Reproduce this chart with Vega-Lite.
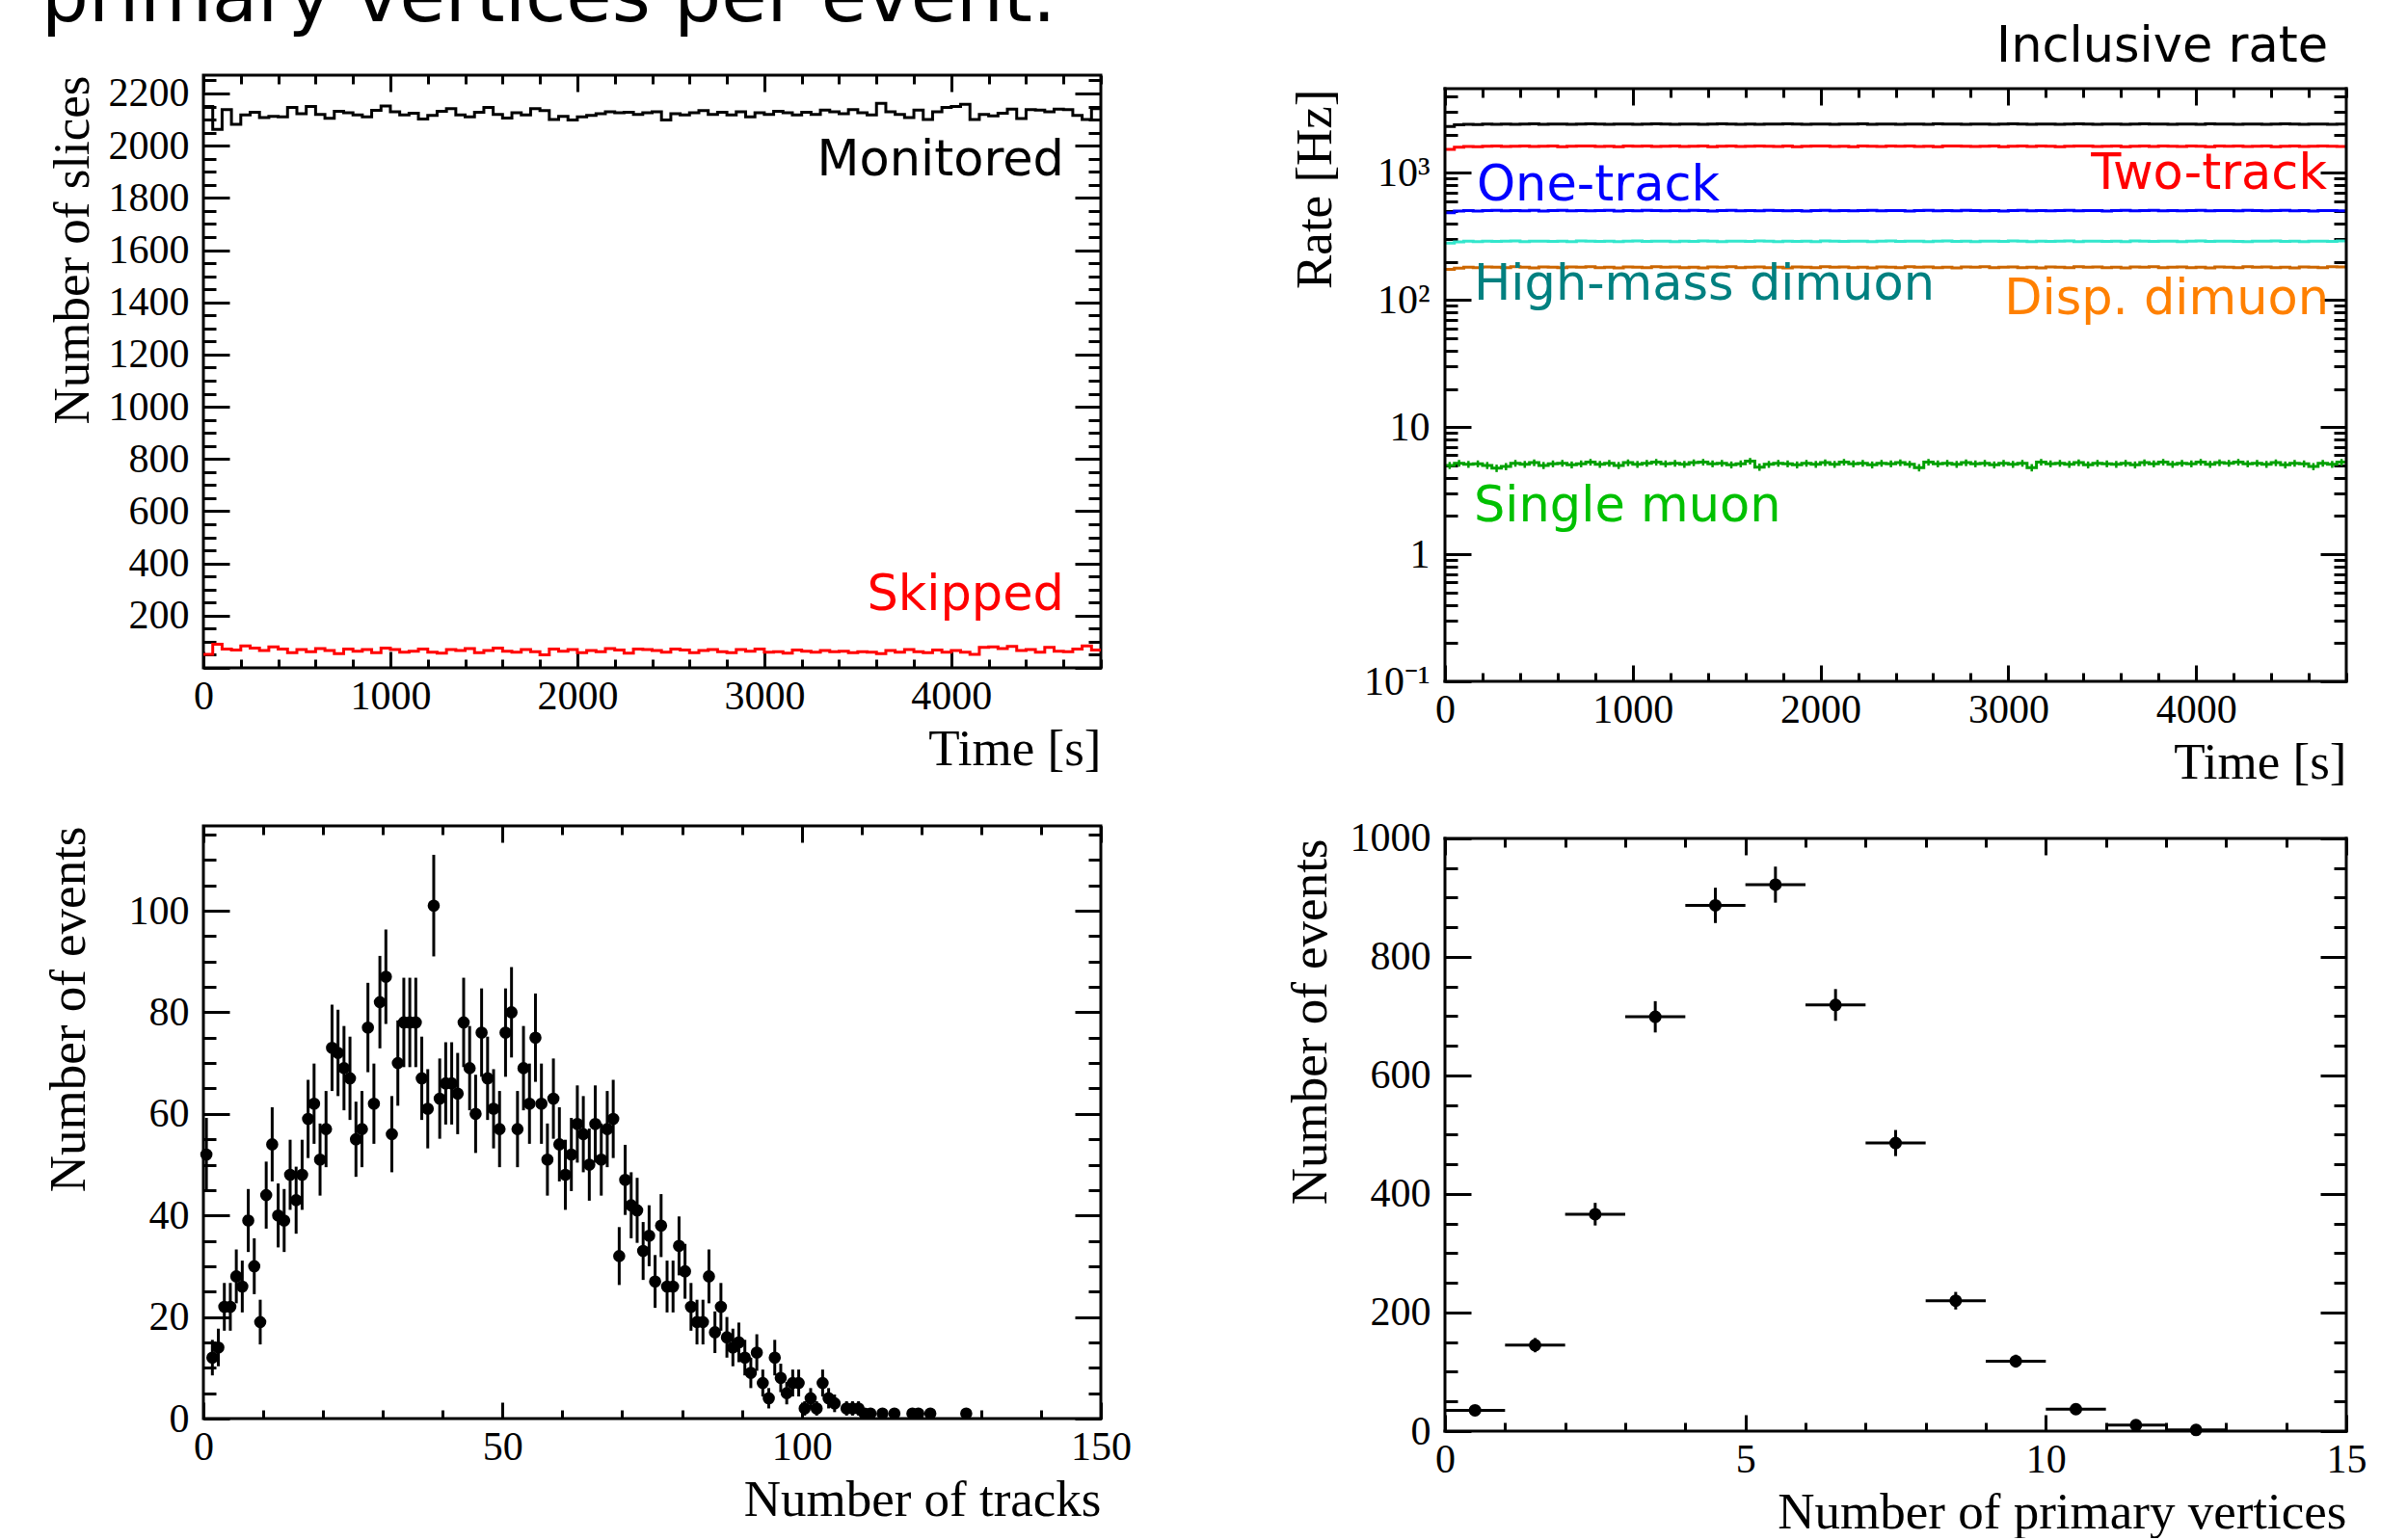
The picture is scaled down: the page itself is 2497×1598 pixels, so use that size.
{
"$schema": "https://vega.github.io/schema/vega-lite/v6.json",
"background": "white",
"padding": {"left": 41, "top": -42, "right": 0, "bottom": 0},
"bounds": "flush",
"columns": 2,
"spacing": {"row": 150, "column": 357},
"config": {
  "view": {"stroke": "black", "strokeWidth": 3},
  "axis": {"grid": false, "domain": false, "labelFont": "Liberation Serif", "labelFontSize": 42, "labelColor": "black", "titleFont": "Liberation Serif", "titleFontSize": 53, "titleFontWeight": "normal", "titleColor": "black", "tickColor": "black", "tickWidth": 3, "labelFlush": false, "labelOverlap": false, "labelBound": false},
  "text": {"font": "DejaVu Sans", "fontSize": 51}
},
"datasets": {
"slices": [
{"t":0,"mon":2150,"skip":52},{"t":50,"mon":2062,"skip":90},{"t":100,"mon":2138,"skip":72},{"t":150,"mon":2082,"skip":68},{"t":200,"mon":2118,"skip":84},{"t":250,"mon":2128,"skip":76},{"t":300,"mon":2108,"skip":66},{"t":350,"mon":2112,"skip":80},{"t":400,"mon":2110,"skip":72},{"t":450,"mon":2146,"skip":58},{"t":500,"mon":2122,"skip":70},{"t":550,"mon":2150,"skip":62},
{"t":600,"mon":2120,"skip":74},{"t":650,"mon":2105,"skip":66},{"t":700,"mon":2132,"skip":54},{"t":750,"mon":2126,"skip":72},{"t":800,"mon":2118,"skip":64},{"t":850,"mon":2110,"skip":70},{"t":900,"mon":2135,"skip":58},{"t":950,"mon":2152,"skip":76},{"t":1000,"mon":2130,"skip":70},{"t":1050,"mon":2118,"skip":60},{"t":1100,"mon":2124,"skip":64},{"t":1150,"mon":2102,"skip":72},
{"t":1200,"mon":2116,"skip":60},{"t":1250,"mon":2132,"skip":56},{"t":1300,"mon":2142,"skip":70},{"t":1350,"mon":2118,"skip":66},{"t":1400,"mon":2110,"skip":74},{"t":1450,"mon":2128,"skip":58},{"t":1500,"mon":2146,"skip":66},{"t":1550,"mon":2120,"skip":76},{"t":1600,"mon":2106,"skip":64},{"t":1650,"mon":2126,"skip":60},{"t":1700,"mon":2118,"skip":70},{"t":1750,"mon":2142,"skip":62},
{"t":1800,"mon":2134,"skip":50},{"t":1850,"mon":2100,"skip":72},{"t":1900,"mon":2112,"skip":64},{"t":1950,"mon":2098,"skip":70},{"t":2000,"mon":2110,"skip":58},{"t":2050,"mon":2116,"skip":66},{"t":2100,"mon":2122,"skip":62},{"t":2150,"mon":2130,"skip":74},{"t":2200,"mon":2126,"skip":68},{"t":2250,"mon":2128,"skip":56},{"t":2300,"mon":2120,"skip":72},{"t":2350,"mon":2126,"skip":70},
{"t":2400,"mon":2130,"skip":66},{"t":2450,"mon":2098,"skip":60},{"t":2500,"mon":2122,"skip":72},{"t":2550,"mon":2118,"skip":68},{"t":2600,"mon":2126,"skip":58},{"t":2650,"mon":2134,"skip":66},{"t":2700,"mon":2120,"skip":70},{"t":2750,"mon":2128,"skip":62},{"t":2800,"mon":2118,"skip":58},{"t":2850,"mon":2130,"skip":70},{"t":2900,"mon":2110,"skip":64},{"t":2950,"mon":2126,"skip":72},
{"t":3000,"mon":2120,"skip":60},{"t":3050,"mon":2132,"skip":62},{"t":3100,"mon":2126,"skip":56},{"t":3150,"mon":2118,"skip":68},{"t":3200,"mon":2128,"skip":64},{"t":3250,"mon":2120,"skip":60},{"t":3300,"mon":2136,"skip":66},{"t":3350,"mon":2130,"skip":62},{"t":3400,"mon":2122,"skip":64},{"t":3450,"mon":2138,"skip":58},{"t":3500,"mon":2126,"skip":62},{"t":3550,"mon":2118,"skip":60},
{"t":3600,"mon":2162,"skip":54},{"t":3650,"mon":2130,"skip":66},{"t":3700,"mon":2120,"skip":60},{"t":3750,"mon":2108,"skip":70},{"t":3800,"mon":2136,"skip":62},{"t":3850,"mon":2100,"skip":58},{"t":3900,"mon":2130,"skip":68},{"t":3950,"mon":2146,"skip":60},{"t":4000,"mon":2150,"skip":66},{"t":4050,"mon":2158,"skip":60},{"t":4100,"mon":2100,"skip":52},{"t":4150,"mon":2120,"skip":78},
{"t":4200,"mon":2114,"skip":80},{"t":4250,"mon":2124,"skip":74},{"t":4300,"mon":2140,"skip":82},{"t":4350,"mon":2104,"skip":66},{"t":4400,"mon":2138,"skip":70},{"t":4450,"mon":2136,"skip":60},{"t":4500,"mon":2130,"skip":78},{"t":4550,"mon":2140,"skip":64},{"t":4600,"mon":2138,"skip":62},{"t":4650,"mon":2116,"skip":72},{"t":4700,"mon":2100,"skip":84},{"t":4750,"mon":2142,"skip":68},
{"t":4800,"mon":2142,"skip":68}
],
"rates": [
{"t":0,"c":25,"inc":2320,"two":1530,"one":485,"hm":280,"disp":174,"mu":5.0,"lo":4.68,"hi":5.32},
{"t":50,"c":75,"inc":2390,"two":1590,"one":500,"hm":286,"disp":178,"mu":5.2,"lo":4.88,"hi":5.52},
{"t":100,"c":125,"inc":2410,"two":1615,"one":506,"hm":290,"disp":181,"mu":5.1,"lo":4.78,"hi":5.42},
{"t":150,"c":175,"inc":2400,"two":1610,"one":502,"hm":288,"disp":180,"mu":5.15,"lo":4.83,"hi":5.47},
{"t":200,"c":225,"inc":2420,"two":1620,"one":505,"hm":291,"disp":182,"mu":5.0,"lo":4.68,"hi":5.32},
{"t":250,"c":275,"inc":2415,"two":1625,"one":508,"hm":289,"disp":181,"mu":4.75,"lo":4.43,"hi":5.07},
{"t":300,"c":325,"inc":2425,"two":1615,"one":503,"hm":290,"disp":180,"mu":4.9,"lo":4.58,"hi":5.22},
{"t":350,"c":375,"inc":2410,"two":1620,"one":506,"hm":292,"disp":183,"mu":5.2,"lo":4.88,"hi":5.52},
{"t":400,"c":425,"inc":2420,"two":1630,"one":504,"hm":288,"disp":181,"mu":5.1,"lo":4.78,"hi":5.42},
{"t":450,"c":475,"inc":2430,"two":1615,"one":507,"hm":290,"disp":179,"mu":5.25,"lo":4.93,"hi":5.57},
{"t":500,"c":525,"inc":2415,"two":1620,"one":502,"hm":291,"disp":182,"mu":5.0,"lo":4.68,"hi":5.32},
{"t":550,"c":575,"inc":2420,"two":1625,"one":505,"hm":289,"disp":181,"mu":5.15,"lo":4.83,"hi":5.47},
{"t":600,"c":625,"inc":2425,"two":1610,"one":508,"hm":290,"disp":180,"mu":5.2,"lo":4.88,"hi":5.52},
{"t":650,"c":675,"inc":2410,"two":1620,"one":504,"hm":288,"disp":182,"mu":5.05,"lo":4.73,"hi":5.37},
{"t":700,"c":725,"inc":2420,"two":1625,"one":506,"hm":292,"disp":181,"mu":5.15,"lo":4.83,"hi":5.47},
{"t":750,"c":775,"inc":2430,"two":1630,"one":503,"hm":290,"disp":183,"mu":5.3,"lo":4.98,"hi":5.62},
{"t":800,"c":825,"inc":2420,"two":1615,"one":505,"hm":289,"disp":180,"mu":5.1,"lo":4.78,"hi":5.42},
{"t":850,"c":875,"inc":2415,"two":1620,"one":507,"hm":291,"disp":181,"mu":5.2,"lo":4.88,"hi":5.52},
{"t":900,"c":925,"inc":2425,"two":1610,"one":502,"hm":288,"disp":179,"mu":5.0,"lo":4.68,"hi":5.32},
{"t":950,"c":975,"inc":2420,"two":1625,"one":506,"hm":290,"disp":182,"mu":5.25,"lo":4.93,"hi":5.57},
{"t":1000,"c":1025,"inc":2410,"two":1620,"one":504,"hm":292,"disp":181,"mu":5.1,"lo":4.78,"hi":5.42},
{"t":1050,"c":1075,"inc":2425,"two":1630,"one":508,"hm":289,"disp":180,"mu":5.2,"lo":4.88,"hi":5.52},
{"t":1100,"c":1125,"inc":2430,"two":1615,"one":505,"hm":290,"disp":183,"mu":5.3,"lo":4.98,"hi":5.62},
{"t":1150,"c":1175,"inc":2420,"two":1620,"one":503,"hm":291,"disp":181,"mu":5.15,"lo":4.83,"hi":5.47},
{"t":1200,"c":1225,"inc":2415,"two":1625,"one":506,"hm":288,"disp":182,"mu":5.2,"lo":4.88,"hi":5.52},
{"t":1250,"c":1275,"inc":2420,"two":1615,"one":504,"hm":290,"disp":180,"mu":5.1,"lo":4.78,"hi":5.42},
{"t":1300,"c":1325,"inc":2425,"two":1620,"one":507,"hm":289,"disp":181,"mu":5.25,"lo":4.93,"hi":5.57},
{"t":1350,"c":1375,"inc":2410,"two":1630,"one":505,"hm":292,"disp":179,"mu":5.3,"lo":4.98,"hi":5.62},
{"t":1400,"c":1425,"inc":2420,"two":1610,"one":502,"hm":290,"disp":182,"mu":5.15,"lo":4.83,"hi":5.47},
{"t":1450,"c":1475,"inc":2430,"two":1620,"one":506,"hm":288,"disp":181,"mu":5.2,"lo":4.88,"hi":5.52},
{"t":1500,"c":1525,"inc":2425,"two":1625,"one":508,"hm":291,"disp":183,"mu":5.05,"lo":4.73,"hi":5.37},
{"t":1550,"c":1575,"inc":2415,"two":1615,"one":504,"hm":290,"disp":180,"mu":5.15,"lo":4.83,"hi":5.47},
{"t":1600,"c":1625,"inc":2420,"two":1620,"one":505,"hm":289,"disp":181,"mu":5.4,"lo":5.08,"hi":5.72},
{"t":1650,"c":1675,"inc":2410,"two":1630,"one":503,"hm":292,"disp":182,"mu":4.85,"lo":4.53,"hi":5.17},
{"t":1700,"c":1725,"inc":2425,"two":1620,"one":507,"hm":290,"disp":180,"mu":5.1,"lo":4.78,"hi":5.42},
{"t":1750,"c":1775,"inc":2420,"two":1615,"one":505,"hm":288,"disp":181,"mu":5.2,"lo":4.88,"hi":5.52},
{"t":1800,"c":1825,"inc":2430,"two":1625,"one":504,"hm":291,"disp":179,"mu":5.15,"lo":4.83,"hi":5.47},
{"t":1850,"c":1875,"inc":2420,"two":1610,"one":506,"hm":289,"disp":182,"mu":5.05,"lo":4.73,"hi":5.37},
{"t":1900,"c":1925,"inc":2415,"two":1620,"one":502,"hm":290,"disp":181,"mu":5.2,"lo":4.88,"hi":5.52},
{"t":1950,"c":1975,"inc":2425,"two":1625,"one":505,"hm":288,"disp":180,"mu":5.1,"lo":4.78,"hi":5.42},
{"t":2000,"c":2025,"inc":2420,"two":1630,"one":508,"hm":292,"disp":183,"mu":5.25,"lo":4.93,"hi":5.57},
{"t":2050,"c":2075,"inc":2410,"two":1615,"one":504,"hm":290,"disp":181,"mu":5.1,"lo":4.78,"hi":5.42},
{"t":2100,"c":2125,"inc":2420,"two":1620,"one":506,"hm":289,"disp":182,"mu":5.3,"lo":4.98,"hi":5.62},
{"t":2150,"c":2175,"inc":2425,"two":1610,"one":503,"hm":291,"disp":180,"mu":5.15,"lo":4.83,"hi":5.47},
{"t":2200,"c":2225,"inc":2430,"two":1625,"one":505,"hm":290,"disp":181,"mu":5.2,"lo":4.88,"hi":5.52},
{"t":2250,"c":2275,"inc":2415,"two":1620,"one":507,"hm":288,"disp":179,"mu":5.05,"lo":4.73,"hi":5.37},
{"t":2300,"c":2325,"inc":2420,"two":1615,"one":504,"hm":290,"disp":182,"mu":5.2,"lo":4.88,"hi":5.52},
{"t":2350,"c":2375,"inc":2425,"two":1630,"one":506,"hm":292,"disp":181,"mu":5.15,"lo":4.83,"hi":5.47},
{"t":2400,"c":2425,"inc":2410,"two":1620,"one":505,"hm":289,"disp":180,"mu":5.25,"lo":4.93,"hi":5.57},
{"t":2450,"c":2475,"inc":2420,"two":1625,"one":502,"hm":290,"disp":183,"mu":5.1,"lo":4.78,"hi":5.42},
{"t":2500,"c":2525,"inc":2425,"two":1615,"one":506,"hm":291,"disp":181,"mu":4.8,"lo":4.48,"hi":5.12},
{"t":2550,"c":2575,"inc":2415,"two":1620,"one":508,"hm":288,"disp":182,"mu":5.3,"lo":4.98,"hi":5.62},
{"t":2600,"c":2625,"inc":2430,"two":1610,"one":504,"hm":290,"disp":180,"mu":5.15,"lo":4.83,"hi":5.47},
{"t":2650,"c":2675,"inc":2420,"two":1625,"one":505,"hm":292,"disp":181,"mu":5.2,"lo":4.88,"hi":5.52},
{"t":2700,"c":2725,"inc":2425,"two":1630,"one":503,"hm":289,"disp":179,"mu":5.1,"lo":4.78,"hi":5.42},
{"t":2750,"c":2775,"inc":2410,"two":1620,"one":507,"hm":290,"disp":182,"mu":5.25,"lo":4.93,"hi":5.57},
{"t":2800,"c":2825,"inc":2420,"two":1615,"one":505,"hm":288,"disp":181,"mu":5.15,"lo":4.83,"hi":5.47},
{"t":2850,"c":2875,"inc":2425,"two":1620,"one":504,"hm":291,"disp":183,"mu":5.2,"lo":4.88,"hi":5.52},
{"t":2900,"c":2925,"inc":2415,"two":1625,"one":506,"hm":290,"disp":180,"mu":5.05,"lo":4.73,"hi":5.37},
{"t":2950,"c":2975,"inc":2420,"two":1610,"one":502,"hm":289,"disp":181,"mu":5.2,"lo":4.88,"hi":5.52},
{"t":3000,"c":3025,"inc":2430,"two":1620,"one":505,"hm":292,"disp":182,"mu":5.1,"lo":4.78,"hi":5.42},
{"t":3050,"c":3075,"inc":2420,"two":1630,"one":508,"hm":290,"disp":180,"mu":5.2,"lo":4.88,"hi":5.52},
{"t":3100,"c":3125,"inc":2410,"two":1615,"one":504,"hm":288,"disp":181,"mu":4.8,"lo":4.48,"hi":5.12},
{"t":3150,"c":3175,"inc":2425,"two":1625,"one":506,"hm":291,"disp":179,"mu":5.3,"lo":4.98,"hi":5.62},
{"t":3200,"c":3225,"inc":2420,"two":1620,"one":503,"hm":289,"disp":182,"mu":5.15,"lo":4.83,"hi":5.47},
{"t":3250,"c":3275,"inc":2415,"two":1610,"one":505,"hm":290,"disp":181,"mu":5.2,"lo":4.88,"hi":5.52},
{"t":3300,"c":3325,"inc":2425,"two":1620,"one":507,"hm":292,"disp":180,"mu":5.1,"lo":4.78,"hi":5.42},
{"t":3350,"c":3375,"inc":2430,"two":1625,"one":504,"hm":288,"disp":183,"mu":5.25,"lo":4.93,"hi":5.57},
{"t":3400,"c":3425,"inc":2420,"two":1630,"one":506,"hm":290,"disp":181,"mu":5.05,"lo":4.73,"hi":5.37},
{"t":3450,"c":3475,"inc":2410,"two":1615,"one":505,"hm":291,"disp":182,"mu":5.2,"lo":4.88,"hi":5.52},
{"t":3500,"c":3525,"inc":2420,"two":1620,"one":502,"hm":289,"disp":180,"mu":5.15,"lo":4.83,"hi":5.47},
{"t":3550,"c":3575,"inc":2425,"two":1625,"one":506,"hm":290,"disp":181,"mu":5.1,"lo":4.78,"hi":5.42},
{"t":3600,"c":3625,"inc":2415,"two":1610,"one":508,"hm":288,"disp":179,"mu":5.2,"lo":4.88,"hi":5.52},
{"t":3650,"c":3675,"inc":2420,"two":1620,"one":504,"hm":292,"disp":182,"mu":5.05,"lo":4.73,"hi":5.37},
{"t":3700,"c":3725,"inc":2430,"two":1625,"one":505,"hm":290,"disp":181,"mu":5.25,"lo":4.93,"hi":5.57},
{"t":3750,"c":3775,"inc":2425,"two":1615,"one":507,"hm":289,"disp":183,"mu":5.15,"lo":4.83,"hi":5.47},
{"t":3800,"c":3825,"inc":2420,"two":1630,"one":503,"hm":291,"disp":180,"mu":5.3,"lo":4.98,"hi":5.62},
{"t":3850,"c":3875,"inc":2410,"two":1620,"one":506,"hm":290,"disp":181,"mu":5.1,"lo":4.78,"hi":5.42},
{"t":3900,"c":3925,"inc":2425,"two":1615,"one":504,"hm":288,"disp":182,"mu":5.2,"lo":4.88,"hi":5.52},
{"t":3950,"c":3975,"inc":2420,"two":1625,"one":505,"hm":290,"disp":180,"mu":5.15,"lo":4.83,"hi":5.47},
{"t":4000,"c":4025,"inc":2415,"two":1620,"one":508,"hm":292,"disp":181,"mu":5.3,"lo":4.98,"hi":5.62},
{"t":4050,"c":4075,"inc":2430,"two":1610,"one":503,"hm":289,"disp":179,"mu":5.1,"lo":4.78,"hi":5.42},
{"t":4100,"c":4125,"inc":2420,"two":1625,"one":506,"hm":291,"disp":182,"mu":5.25,"lo":4.93,"hi":5.57},
{"t":4150,"c":4175,"inc":2425,"two":1620,"one":505,"hm":290,"disp":181,"mu":5.2,"lo":4.88,"hi":5.52},
{"t":4200,"c":4225,"inc":2410,"two":1630,"one":504,"hm":289,"disp":180,"mu":5.3,"lo":4.98,"hi":5.62},
{"t":4250,"c":4275,"inc":2420,"two":1615,"one":507,"hm":288,"disp":183,"mu":5.15,"lo":4.83,"hi":5.47},
{"t":4300,"c":4325,"inc":2425,"two":1620,"one":505,"hm":291,"disp":181,"mu":5.2,"lo":4.88,"hi":5.52},
{"t":4350,"c":4375,"inc":2415,"two":1625,"one":503,"hm":290,"disp":182,"mu":5.1,"lo":4.78,"hi":5.42},
{"t":4400,"c":4425,"inc":2420,"two":1610,"one":506,"hm":292,"disp":180,"mu":5.25,"lo":4.93,"hi":5.57},
{"t":4450,"c":4475,"inc":2430,"two":1620,"one":508,"hm":289,"disp":181,"mu":5.05,"lo":4.73,"hi":5.37},
{"t":4500,"c":4525,"inc":2420,"two":1630,"one":504,"hm":290,"disp":179,"mu":5.2,"lo":4.88,"hi":5.52},
{"t":4550,"c":4575,"inc":2410,"two":1615,"one":505,"hm":288,"disp":182,"mu":5.15,"lo":4.83,"hi":5.47},
{"t":4600,"c":4625,"inc":2425,"two":1620,"one":502,"hm":291,"disp":181,"mu":4.9,"lo":4.58,"hi":5.22},
{"t":4650,"c":4675,"inc":2420,"two":1625,"one":506,"hm":290,"disp":180,"mu":5.2,"lo":4.88,"hi":5.52},
{"t":4700,"c":4725,"inc":2415,"two":1620,"one":505,"hm":289,"disp":183,"mu":5.1,"lo":4.78,"hi":5.42},
{"t":4750,"c":4775,"inc":2420,"two":1615,"one":504,"hm":292,"disp":182,"mu":5.3,"lo":4.98,"hi":5.62},
{"t":4800,"inc":2420,"two":1615,"one":504,"hm":292,"disp":182,"mu":5.3}
],
"tracks": [
{"x":0.5,"n":52,"lo":44.8,"hi":59.2},{"x":1.5,"n":12,"lo":8.5,"hi":15.5},{"x":2.5,"n":14,"lo":10.3,"hi":17.7},{"x":3.5,"n":22,"lo":17.3,"hi":26.7},{"x":4.5,"n":22,"lo":17.3,"hi":26.7},{"x":5.5,"n":28,"lo":22.7,"hi":33.3},{"x":6.5,"n":26,"lo":20.9,"hi":31.1},{"x":7.5,"n":39,"lo":32.8,"hi":45.2},{"x":8.5,"n":30,"lo":24.5,"hi":35.5},{"x":9.5,"n":19,"lo":14.6,"hi":23.4},
{"x":10.5,"n":44,"lo":37.4,"hi":50.6},{"x":11.5,"n":54,"lo":46.7,"hi":61.3},{"x":12.5,"n":40,"lo":33.7,"hi":46.3},{"x":13.5,"n":39,"lo":32.8,"hi":45.2},{"x":14.5,"n":48,"lo":41.1,"hi":54.9},{"x":15.5,"n":43,"lo":36.4,"hi":49.6},{"x":16.5,"n":48,"lo":41.1,"hi":54.9},{"x":17.5,"n":59,"lo":51.3,"hi":66.7},{"x":18.5,"n":62,"lo":54.1,"hi":69.9},{"x":19.5,"n":51,"lo":43.9,"hi":58.1},
{"x":20.5,"n":57,"lo":49.5,"hi":64.5},{"x":21.5,"n":73,"lo":64.5,"hi":81.5},{"x":22.5,"n":72,"lo":63.5,"hi":80.5},{"x":23.5,"n":69,"lo":60.7,"hi":77.3},{"x":24.5,"n":67,"lo":58.8,"hi":75.2},{"x":25.5,"n":55,"lo":47.6,"hi":62.4},{"x":26.5,"n":57,"lo":49.5,"hi":64.5},{"x":27.5,"n":77,"lo":68.2,"hi":85.8},{"x":28.5,"n":62,"lo":54.1,"hi":69.9},{"x":29.5,"n":82,"lo":72.9,"hi":91.1},
{"x":30.5,"n":87,"lo":77.7,"hi":96.3},{"x":31.5,"n":56,"lo":48.5,"hi":63.5},{"x":32.5,"n":70,"lo":61.6,"hi":78.4},{"x":33.5,"n":78,"lo":69.2,"hi":86.8},{"x":34.5,"n":78,"lo":69.2,"hi":86.8},{"x":35.5,"n":78,"lo":69.2,"hi":86.8},{"x":36.5,"n":67,"lo":58.8,"hi":75.2},{"x":37.5,"n":61,"lo":53.2,"hi":68.8},{"x":38.5,"n":101,"lo":91.0,"hi":111.0},{"x":39.5,"n":63,"lo":55.1,"hi":70.9},
{"x":40.5,"n":66,"lo":57.9,"hi":74.1},{"x":41.5,"n":66,"lo":57.9,"hi":74.1},{"x":42.5,"n":64,"lo":56,"hi":72},{"x":43.5,"n":78,"lo":69.2,"hi":86.8},{"x":44.5,"n":69,"lo":60.7,"hi":77.3},{"x":45.5,"n":60,"lo":52.3,"hi":67.7},{"x":46.5,"n":76,"lo":67.3,"hi":84.7},{"x":47.5,"n":67,"lo":58.8,"hi":75.2},{"x":48.5,"n":61,"lo":53.2,"hi":68.8},{"x":49.5,"n":57,"lo":49.5,"hi":64.5},
{"x":50.5,"n":76,"lo":67.3,"hi":84.7},{"x":51.5,"n":80,"lo":71.1,"hi":88.9},{"x":52.5,"n":57,"lo":49.5,"hi":64.5},{"x":53.5,"n":69,"lo":60.7,"hi":77.3},{"x":54.5,"n":62,"lo":54.1,"hi":69.9},{"x":55.5,"n":75,"lo":66.3,"hi":83.7},{"x":56.5,"n":62,"lo":54.1,"hi":69.9},{"x":57.5,"n":51,"lo":43.9,"hi":58.1},{"x":58.5,"n":63,"lo":55.1,"hi":70.9},{"x":59.5,"n":54,"lo":46.7,"hi":61.3},
{"x":60.5,"n":48,"lo":41.1,"hi":54.9},{"x":61.5,"n":52,"lo":44.8,"hi":59.2},{"x":62.5,"n":58,"lo":50.4,"hi":65.6},{"x":63.5,"n":56,"lo":48.5,"hi":63.5},{"x":64.5,"n":50,"lo":42.9,"hi":57.1},{"x":65.5,"n":58,"lo":50.4,"hi":65.6},{"x":66.5,"n":51,"lo":43.9,"hi":58.1},{"x":67.5,"n":57,"lo":49.5,"hi":64.5},{"x":68.5,"n":59,"lo":51.3,"hi":66.7},{"x":69.5,"n":32,"lo":26.3,"hi":37.7},
{"x":70.5,"n":47,"lo":40.1,"hi":53.9},{"x":71.5,"n":42,"lo":35.5,"hi":48.5},{"x":72.5,"n":41,"lo":34.6,"hi":47.4},{"x":73.5,"n":33,"lo":27.3,"hi":38.7},{"x":74.5,"n":36,"lo":30,"hi":42},{"x":75.5,"n":27,"lo":21.8,"hi":32.2},{"x":76.5,"n":38,"lo":31.8,"hi":44.2},{"x":77.5,"n":26,"lo":20.9,"hi":31.1},{"x":78.5,"n":26,"lo":20.9,"hi":31.1},{"x":79.5,"n":34,"lo":28.2,"hi":39.8},
{"x":80.5,"n":29,"lo":23.6,"hi":34.4},{"x":81.5,"n":22,"lo":17.3,"hi":26.7},{"x":82.5,"n":19,"lo":14.6,"hi":23.4},{"x":83.5,"n":19,"lo":14.6,"hi":23.4},{"x":84.5,"n":28,"lo":22.7,"hi":33.3},{"x":85.5,"n":17,"lo":12.9,"hi":21.1},{"x":86.5,"n":22,"lo":17.3,"hi":26.7},{"x":87.5,"n":16,"lo":12,"hi":20},{"x":88.5,"n":14,"lo":10.3,"hi":17.7},{"x":89.5,"n":15,"lo":11.1,"hi":18.9},
{"x":90.5,"n":12,"lo":8.5,"hi":15.5},{"x":91.5,"n":9,"lo":6,"hi":12},{"x":92.5,"n":13,"lo":9.4,"hi":16.6},{"x":93.5,"n":7,"lo":4.35,"hi":9.65},{"x":94.5,"n":4,"lo":2,"hi":6},{"x":95.5,"n":12,"lo":8.5,"hi":15.5},{"x":96.5,"n":8,"lo":5.2,"hi":10.8},{"x":97.5,"n":5,"lo":2.8,"hi":7.2},{"x":98.5,"n":7,"lo":4.35,"hi":9.65},{"x":99.5,"n":7,"lo":4.35,"hi":9.65},
{"x":100.5,"n":2,"lo":0.59,"hi":3.41},{"x":101.5,"n":4,"lo":2,"hi":6},{"x":102.5,"n":2,"lo":0.59,"hi":3.41},{"x":103.5,"n":7,"lo":4.35,"hi":9.65},{"x":104.5,"n":4,"lo":2,"hi":6},{"x":105.5,"n":3,"lo":1.27,"hi":4.73},{"x":107.5,"n":2,"lo":0.59,"hi":3.41},{"x":108.5,"n":2,"lo":0.59,"hi":3.41},{"x":109.5,"n":2,"lo":0.59,"hi":3.41},{"x":110.5,"n":1,"lo":0,"hi":2},
{"x":111.5,"n":1,"lo":0,"hi":2},{"x":113.5,"n":1,"lo":0,"hi":2},{"x":115.5,"n":1,"lo":0,"hi":2},{"x":118.5,"n":1,"lo":0,"hi":2},{"x":119.5,"n":1,"lo":0,"hi":2},{"x":121.5,"n":1,"lo":0,"hi":2},{"x":127.5,"n":1,"lo":0,"hi":2}
],
"pv": [
{"x":0.5,"x0":0,"x1":1,"n":35,"lo":29.1,"hi":40.9},
{"x":1.5,"x0":1,"x1":2,"n":145,"lo":133.0,"hi":157.0},
{"x":2.5,"x0":2,"x1":3,"n":366,"lo":346.9,"hi":385.1},
{"x":3.5,"x0":3,"x1":4,"n":699,"lo":672.6,"hi":725.4},
{"x":4.5,"x0":4,"x1":5,"n":887,"lo":857.2,"hi":916.8},
{"x":5.5,"x0":5,"x1":6,"n":922,"lo":891.6,"hi":952.4},
{"x":6.5,"x0":6,"x1":7,"n":719,"lo":692.2,"hi":745.8},
{"x":7.5,"x0":7,"x1":8,"n":486,"lo":464.0,"hi":508.0},
{"x":8.5,"x0":8,"x1":9,"n":220,"lo":205.2,"hi":234.8},
{"x":9.5,"x0":9,"x1":10,"n":118,"lo":107.1,"hi":128.9},
{"x":10.5,"x0":10,"x1":11,"n":37,"lo":30.9,"hi":43.1},
{"x":11.5,"x0":11,"x1":12,"n":10,"lo":6.8,"hi":13.2},
{"x":12.5,"x0":12,"x1":13,"n":2,"lo":0.6,"hi":3.4}
]
},
"concat": [
{
"width": 931, "height": 615,
"data": {"name": "slices"},
"resolve": {"axis": {"x": "independent", "y": "independent"}},
"layer": [
{"mark": {"type": "line", "interpolate": "step-after", "color": "black", "strokeWidth": 3},
 "encoding": {
  "x": {"field": "t", "type": "quantitative", "scale": {"domain": [0, 4800], "nice": false, "zero": false},
        "axis": {"orient": "bottom", "values": [0,1000,2000,3000,4000], "format": "d", "ticks": false, "tickSize": 0, "labelPadding": 9, "title": "Time [s]", "titleAnchor": "end", "titlePadding": 8}},
  "y": {"field": "mon", "type": "quantitative", "scale": {"domain": [0, 2270], "nice": false, "zero": false},
        "axis": {"orient": "left", "values": [200,400,600,800,1000,1200,1400,1600,1800,2000,2200], "format": "d", "ticks": false, "tickSize": 0, "labelPadding": 15, "title": "Number of slices", "titleAnchor": "end", "titlePadding": 10}}}},
{"mark": {"type": "line", "interpolate": "step-after", "color": "#ff0000", "strokeWidth": 3},
 "encoding": {
  "x": {"field": "t", "type": "quantitative", "axis": {"orient": "bottom", "values": [0,1000,2000,3000,4000], "labels": false, "tickSize": -17, "title": null}},
  "y": {"field": "skip", "type": "quantitative", "axis": {"orient": "left", "values": [0,200,400,600,800,1000,1200,1400,1600,1800,2000,2200], "labels": false, "tickSize": -27, "title": null}}}},
{"mark": {"type": "point", "opacity": 0},
 "encoding": {
  "x": {"field": "t", "type": "quantitative", "axis": {"orient": "bottom", "values": [0,200,400,600,800,1000,1200,1400,1600,1800,2000,2200,2400,2600,2800,3000,3200,3400,3600,3800,4000,4200,4400,4600,4800], "labels": false, "tickSize": -9, "title": null}},
  "y": {"field": "mon", "type": "quantitative", "axis": {"orient": "left", "values": [0,50,100,150,200,250,300,350,400,450,500,550,600,650,700,750,800,850,900,950,1000,1050,1100,1150,1200,1250,1300,1350,1400,1450,1500,1550,1600,1650,1700,1750,1800,1850,1900,1950,2000,2050,2100,2150,2200,2250], "labels": false, "tickSize": -13, "title": null}}}},
{"mark": {"type": "point", "opacity": 0},
 "encoding": {
  "x": {"field": "t", "type": "quantitative", "axis": {"orient": "top", "values": [0,1000,2000,3000,4000], "labels": false, "tickSize": -17, "title": null}},
  "y": {"field": "mon", "type": "quantitative", "axis": {"orient": "right", "values": [0,200,400,600,800,1000,1200,1400,1600,1800,2000,2200], "labels": false, "tickSize": -27, "title": null}}}},
{"mark": {"type": "point", "opacity": 0},
 "encoding": {
  "x": {"field": "t", "type": "quantitative", "axis": {"orient": "top", "values": [0,200,400,600,800,1000,1200,1400,1600,1800,2000,2200,2400,2600,2800,3000,3200,3400,3600,3800,4000,4200,4400,4600,4800], "labels": false, "tickSize": -9, "title": null}},
  "y": {"field": "mon", "type": "quantitative", "axis": {"orient": "right", "values": [0,50,100,150,200,250,300,350,400,450,500,550,600,650,700,750,800,850,900,950,1000,1050,1100,1150,1200,1250,1300,1350,1400,1450,1500,1550,1600,1650,1700,1750,1800,1850,1900,1950,2000,2050,2100,2150,2200,2250], "labels": false, "tickSize": -13, "title": null}}}},
{"data": {"values": [{"label": "Monitored"}]},
 "mark": {"type": "text", "align": "right", "baseline": "alphabetic", "color": "black"},
 "encoding": {"x": {"datum": 4604, "type": "quantitative", "axis": null}, "y": {"datum": 1885, "type": "quantitative", "axis": null}, "text": {"field": "label"}}},
{"data": {"values": [{"label": "Skipped"}]},
 "mark": {"type": "text", "align": "right", "baseline": "alphabetic", "color": "#ff0000"},
 "encoding": {"x": {"datum": 4604, "type": "quantitative", "axis": null}, "y": {"datum": 221, "type": "quantitative", "axis": null}, "text": {"field": "label"}}},
{"data": {"values": [{"label": "primary vertices per event."}]},
 "mark": {"type": "text", "align": "left", "baseline": "alphabetic", "color": "black", "fontSize": 77},
 "encoding": {"x": {"datum": -866, "type": "quantitative", "axis": null}, "y": {"datum": 2476, "type": "quantitative", "axis": null}, "text": {"field": "label"}}}
]
},
{
"width": 935, "height": 629,
"view": {"stroke": null},
"data": {"name": "rates"},
"resolve": {"axis": {"x": "independent", "y": "independent"}},
"layer": [
{"mark": {"type": "line", "interpolate": "step-after", "color": "black", "strokeWidth": 3},
 "encoding": {
  "x": {"field": "t", "type": "quantitative", "scale": {"domain": [0, 4800], "nice": false, "zero": false},
        "axis": {"orient": "bottom", "values": [0,1000,2000,3000,4000], "format": "d", "ticks": false, "tickSize": 0, "labelPadding": 9, "title": "Time [s]", "titleAnchor": "end", "titlePadding": 8}},
  "y": {"field": "inc", "type": "quantitative", "scale": {"type": "log", "domain": [0.1, 5874], "nice": false, "zero": false},
        "axis": {"orient": "left", "values": [0.1,1,10,100,1000], "labelExpr": "datum.value > 500 ? '10³' : datum.value > 50 ? '10²' : datum.value > 5 ? '10' : datum.value > 0.5 ? '1' : '10⁻¹'", "ticks": false, "tickSize": 0, "labelPadding": 16, "title": "Rate [Hz]", "titleAnchor": "end", "titleY": 14, "titlePadding": 23}}}},
{"mark": {"type": "line", "interpolate": "step-after", "color": "#ff0000", "strokeWidth": 3},
 "encoding": {
  "x": {"field": "t", "type": "quantitative", "axis": {"orient": "bottom", "values": [0,1000,2000,3000,4000], "labels": false, "tickSize": -17, "title": null}},
  "y": {"field": "two", "type": "quantitative", "axis": {"orient": "left", "values": [0.1,1,10,100,1000], "labels": false, "tickSize": -27, "title": null}}}},
{"mark": {"type": "line", "interpolate": "step-after", "color": "#0000ff", "strokeWidth": 3},
 "encoding": {
  "x": {"field": "t", "type": "quantitative", "axis": {"orient": "bottom", "values": [0,200,400,600,800,1000,1200,1400,1600,1800,2000,2200,2400,2600,2800,3000,3200,3400,3600,3800,4000,4200,4400,4600,4800], "labels": false, "tickSize": -9, "title": null}},
  "y": {"field": "one", "type": "quantitative", "axis": {"orient": "left", "values": [0.2,0.3,0.4,0.5,0.6,0.7,0.8,0.9,2,3,4,5,6,7,8,9,20,30,40,50,60,70,80,90,200,300,400,500,600,700,800,900,2000,3000,4000], "labels": false, "tickSize": -13, "title": null}}}},
{"mark": {"type": "line", "interpolate": "step-after", "color": "#33e6cc", "strokeWidth": 3},
 "encoding": {
  "x": {"field": "t", "type": "quantitative", "axis": {"orient": "top", "offset": -14, "values": [0,1000,2000,3000,4000], "labels": false, "tickSize": -17, "title": null}},
  "y": {"field": "hm", "type": "quantitative", "axis": {"orient": "right", "values": [0.1,1,10,100,1000], "labels": false, "tickSize": -27, "title": null}}}},
{"mark": {"type": "line", "interpolate": "step-after", "color": "#cc6600", "strokeWidth": 3},
 "encoding": {
  "x": {"field": "t", "type": "quantitative", "axis": {"orient": "top", "offset": -14, "values": [0,200,400,600,800,1000,1200,1400,1600,1800,2000,2200,2400,2600,2800,3000,3200,3400,3600,3800,4000,4200,4400,4600,4800], "labels": false, "tickSize": -9, "title": null}},
  "y": {"field": "disp", "type": "quantitative", "axis": {"orient": "right", "values": [0.2,0.3,0.4,0.5,0.6,0.7,0.8,0.9,2,3,4,5,6,7,8,9,20,30,40,50,60,70,80,90,200,300,400,500,600,700,800,900,2000,3000,4000], "labels": false, "tickSize": -13, "title": null}}}},
{"mark": {"type": "line", "interpolate": "step-after", "color": "#00a000", "strokeWidth": 3},
 "encoding": {
  "x": {"field": "t", "type": "quantitative", "axis": null},
  "y": {"field": "mu", "type": "quantitative", "axis": null}}},
{"mark": {"type": "rule", "color": "#00a000", "strokeWidth": 2.5},
 "encoding": {
  "x": {"field": "c", "type": "quantitative", "axis": null},
  "y": {"field": "lo", "type": "quantitative", "axis": null},
  "y2": {"field": "hi"}}},
{"data": {"values": [{}]}, "mark": {"type": "rule", "color": "black", "strokeWidth": 3, "strokeCap": "square"},
 "encoding": {"x": {"datum": 0, "type": "quantitative", "axis": null}, "x2": {"datum": 4800}, "y": {"datum": 4600, "type": "quantitative", "axis": null}}},
{"data": {"values": [{}]}, "mark": {"type": "rule", "color": "black", "strokeWidth": 3, "strokeCap": "square"},
 "encoding": {"x": {"datum": 0, "type": "quantitative", "axis": null}, "x2": {"datum": 4800}, "y": {"datum": 0.1, "type": "quantitative", "axis": null}}},
{"data": {"values": [{}]}, "mark": {"type": "rule", "color": "black", "strokeWidth": 3, "strokeCap": "square"},
 "encoding": {"x": {"datum": 0, "type": "quantitative", "axis": null}, "y": {"datum": 0.1, "type": "quantitative", "axis": null}, "y2": {"datum": 4600}}},
{"data": {"values": [{}]}, "mark": {"type": "rule", "color": "black", "strokeWidth": 3, "strokeCap": "square"},
 "encoding": {"x": {"datum": 4800, "type": "quantitative", "axis": null}, "y": {"datum": 0.1, "type": "quantitative", "axis": null}, "y2": {"datum": 4600}}},
{"data": {"values": [{"label": "One-track"}]},
 "mark": {"type": "text", "align": "left", "baseline": "alphabetic", "color": "#0000ff"},
 "encoding": {"x": {"datum": 169, "type": "quantitative", "axis": null}, "y": {"datum": 607, "type": "quantitative", "axis": null}, "text": {"field": "label"}}},
{"data": {"values": [{"label": "Two-track"}]},
 "mark": {"type": "text", "align": "right", "baseline": "alphabetic", "color": "#ff0000"},
 "encoding": {"x": {"datum": 4697, "type": "quantitative", "axis": null}, "y": {"datum": 748, "type": "quantitative", "axis": null}, "text": {"field": "label"}}},
{"data": {"values": [{"label": "High-mass dimuon"}]},
 "mark": {"type": "text", "align": "left", "baseline": "alphabetic", "color": "#008080"},
 "encoding": {"x": {"datum": 154, "type": "quantitative", "axis": null}, "y": {"datum": 100.5, "type": "quantitative", "axis": null}, "text": {"field": "label"}}},
{"data": {"values": [{"label": "Disp. dimuon"}]},
 "mark": {"type": "text", "align": "right", "baseline": "alphabetic", "color": "#ff8000"},
 "encoding": {"x": {"datum": 4708, "type": "quantitative", "axis": null}, "y": {"datum": 77.4, "type": "quantitative", "axis": null}, "text": {"field": "label"}}},
{"data": {"values": [{"label": "Single muon"}]},
 "mark": {"type": "text", "align": "left", "baseline": "alphabetic", "color": "#00c000"},
 "encoding": {"x": {"datum": 154, "type": "quantitative", "axis": null}, "y": {"datum": 1.81, "type": "quantitative", "axis": null}, "text": {"field": "label"}}},
{"data": {"values": [{"label": "Inclusive rate"}]},
 "mark": {"type": "text", "align": "right", "baseline": "alphabetic", "color": "black"},
 "encoding": {"x": {"datum": 4703, "type": "quantitative", "axis": null}, "y": {"datum": 7500, "type": "quantitative", "axis": null}, "text": {"field": "label"}}}
]
},
{
"width": 931, "height": 615,
"data": {"name": "tracks"},
"resolve": {"axis": {"x": "independent", "y": "independent"}},
"layer": [
{"mark": {"type": "rule", "color": "black", "strokeWidth": 3},
 "encoding": {
  "x": {"field": "x", "type": "quantitative", "scale": {"domain": [0, 150], "nice": false, "zero": false},
        "axis": {"orient": "bottom", "values": [0,50,100,150], "format": "d", "ticks": false, "tickSize": 0, "labelPadding": 9, "title": "Number of tracks", "titleAnchor": "end", "titlePadding": 8}},
  "y": {"field": "lo", "type": "quantitative", "scale": {"domain": [0, 116.7], "nice": false, "zero": false},
        "axis": {"orient": "left", "values": [0,20,40,60,80,100], "format": "d", "ticks": false, "tickSize": 0, "labelPadding": 15, "title": "Number of events", "titleAnchor": "end", "titlePadding": 35}},
  "y2": {"field": "hi"}}},
{"mark": {"type": "circle", "color": "black", "opacity": 1, "size": 160},
 "encoding": {
  "x": {"field": "x", "type": "quantitative", "axis": {"orient": "bottom", "values": [0,50,100,150], "labels": false, "tickSize": -17, "title": null}},
  "y": {"field": "n", "type": "quantitative", "axis": {"orient": "left", "values": [0,20,40,60,80,100], "labels": false, "tickSize": -27, "title": null}}}},
{"mark": {"type": "point", "opacity": 0},
 "encoding": {
  "x": {"field": "x", "type": "quantitative", "axis": {"orient": "bottom", "values": [0,10,20,30,40,50,60,70,80,90,100,110,120,130,140,150], "labels": false, "tickSize": -9, "title": null}},
  "y": {"field": "n", "type": "quantitative", "axis": {"orient": "left", "values": [0,5,10,15,20,25,30,35,40,45,50,55,60,65,70,75,80,85,90,95,100,105,110,115], "labels": false, "tickSize": -13, "title": null}}}},
{"mark": {"type": "point", "opacity": 0},
 "encoding": {
  "x": {"field": "x", "type": "quantitative", "axis": {"orient": "top", "values": [0,50,100,150], "labels": false, "tickSize": -17, "title": null}},
  "y": {"field": "n", "type": "quantitative", "axis": {"orient": "right", "values": [0,20,40,60,80,100], "labels": false, "tickSize": -27, "title": null}}}},
{"mark": {"type": "point", "opacity": 0},
 "encoding": {
  "x": {"field": "x", "type": "quantitative", "axis": {"orient": "top", "values": [0,10,20,30,40,50,60,70,80,90,100,110,120,130,140,150], "labels": false, "tickSize": -9, "title": null}},
  "y": {"field": "n", "type": "quantitative", "axis": {"orient": "right", "values": [0,5,10,15,20,25,30,35,40,45,50,55,60,65,70,75,80,85,90,95,100,105,110,115], "labels": false, "tickSize": -13, "title": null}}}}
]
},
{
"width": 935, "height": 628,
"view": {"stroke": null},
"data": {"name": "pv"},
"resolve": {"axis": {"x": "independent", "y": "independent"}},
"layer": [
{"mark": {"type": "rule", "color": "black", "strokeWidth": 3},
 "encoding": {
  "x": {"field": "x", "type": "quantitative", "scale": {"domain": [0, 15], "nice": false, "zero": false},
        "axis": {"orient": "bottom", "values": [0,5,10,15], "format": "d", "ticks": false, "tickSize": 0, "labelPadding": 9, "title": "Number of primary vertices", "titleAnchor": "end", "titlePadding": 8}},
  "y": {"field": "lo", "type": "quantitative", "scale": {"domain": [0, 1021.1], "nice": false, "zero": false},
        "axis": {"orient": "left", "values": [0,200,400,600,800,1000], "format": "d", "ticks": false, "tickSize": 0, "labelPadding": 15, "title": "Number of events", "titleAnchor": "end", "titleY": 13, "titlePadding": 14}},
  "y2": {"field": "hi"}}},
{"mark": {"type": "rule", "color": "black", "strokeWidth": 3},
 "encoding": {
  "x": {"field": "x0", "type": "quantitative", "axis": {"orient": "bottom", "values": [0,5,10,15], "labels": false, "tickSize": -17, "title": null}},
  "x2": {"field": "x1"},
  "y": {"field": "n", "type": "quantitative", "axis": {"orient": "left", "values": [0,200,400,600,800,1000], "labels": false, "tickSize": -27, "title": null}}}},
{"mark": {"type": "circle", "color": "black", "opacity": 1, "size": 170},
 "encoding": {
  "x": {"field": "x", "type": "quantitative", "axis": {"orient": "bottom", "values": [0,1,2,3,4,5,6,7,8,9,10,11,12,13,14,15], "labels": false, "tickSize": -9, "title": null}},
  "y": {"field": "n", "type": "quantitative", "axis": {"orient": "left", "values": [0,50,100,150,200,250,300,350,400,450,500,550,600,650,700,750,800,850,900,950,1000], "labels": false, "tickSize": -13, "title": null}}}},
{"mark": {"type": "point", "opacity": 0},
 "encoding": {
  "x": {"field": "x", "type": "quantitative", "axis": {"orient": "top", "offset": -13, "values": [0,5,10,15], "labels": false, "tickSize": -17, "title": null}},
  "y": {"field": "n", "type": "quantitative", "axis": {"orient": "right", "values": [0,200,400,600,800,1000], "labels": false, "tickSize": -27, "title": null}}}},
{"mark": {"type": "point", "opacity": 0},
 "encoding": {
  "x": {"field": "x", "type": "quantitative", "axis": {"orient": "top", "offset": -13, "values": [0,1,2,3,4,5,6,7,8,9,10,11,12,13,14,15], "labels": false, "tickSize": -9, "title": null}},
  "y": {"field": "n", "type": "quantitative", "axis": {"orient": "right", "values": [0,50,100,150,200,250,300,350,400,450,500,550,600,650,700,750,800,850,900,950,1000], "labels": false, "tickSize": -13, "title": null}}}},
{"data": {"values": [{}]}, "mark": {"type": "rule", "color": "black", "strokeWidth": 3, "strokeCap": "square"},
 "encoding": {"x": {"datum": 0, "type": "quantitative", "axis": null}, "x2": {"datum": 15}, "y": {"datum": 1000, "type": "quantitative", "axis": null}}},
{"data": {"values": [{}]}, "mark": {"type": "rule", "color": "black", "strokeWidth": 3, "strokeCap": "square"},
 "encoding": {"x": {"datum": 0, "type": "quantitative", "axis": null}, "x2": {"datum": 15}, "y": {"datum": 0, "type": "quantitative", "axis": null}}},
{"data": {"values": [{}]}, "mark": {"type": "rule", "color": "black", "strokeWidth": 3, "strokeCap": "square"},
 "encoding": {"x": {"datum": 0, "type": "quantitative", "axis": null}, "y": {"datum": 0, "type": "quantitative", "axis": null}, "y2": {"datum": 1000}}},
{"data": {"values": [{}]}, "mark": {"type": "rule", "color": "black", "strokeWidth": 3, "strokeCap": "square"},
 "encoding": {"x": {"datum": 15, "type": "quantitative", "axis": null}, "y": {"datum": 0, "type": "quantitative", "axis": null}, "y2": {"datum": 1000}}}
]
}
]
}
